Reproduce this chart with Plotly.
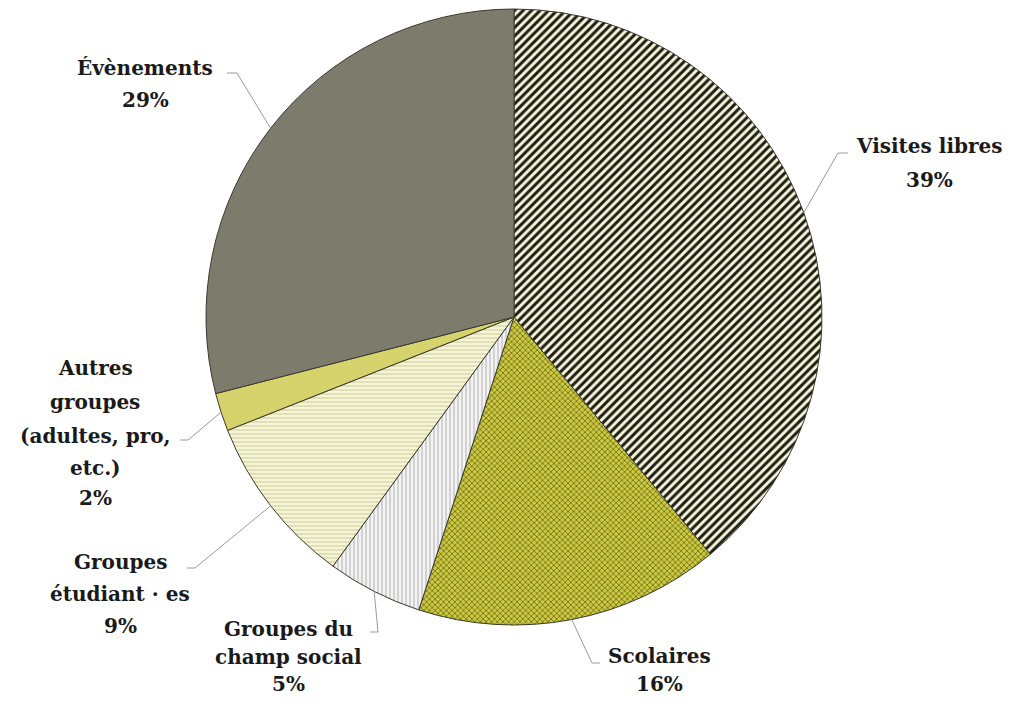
import math
import plotly.graph_objects as go

# ---- data ----
labels = ["Visites libres", "Scolaires", "Groupes du champ social",
          "Groupes étudiant·es", "Autres groupes (adultes, pro, etc.)", "Évènements"]
values = [39, 16, 5, 9, 2, 29]
label_lines = [
    ["Visites libres", "39%"],
    ["Scolaires", "16%"],
    ["Groupes du", "champ social", "5%"],
    ["Groupes", "étudiant · es", "9%"],
    ["Autres", "groupes", "(adultes, pro,", "etc.)", "2%"],
    ["Évènements", "29%"],
]

# ---- style ----
W, H = 1017, 706
OFF = 8  # default page body margin
FW, FH = W - 2 * OFF, H - 2 * OFF
CX, CY, R = 514, 317, 308
bg_colors = ["#f7f5de", "#cdca3e", "#f3f3f3", "#f6f5d8", "#d6d36c", "#7c7b6c"]
fg_colors = ["#1e1e14", "#4a4814", "#bdbdbd", "#d8d6a8", "#d6d36c", "#7c7b6c"]
shapes_pat = ["/", "x", "|", "-", "", ""]
pat_size = [6, 4, 4, 4, 8, 8]
pat_solid = [0.5, 0.28, 0.3, 0.35, 0.3, 0.3]

# label layout in reference pixels: text center x, line y's, elbow x, elbow y, end x
label_x = [929, 659, 288, 120, 95, 145]
label_ys = [
    [146, 180],
    [656, 684],
    [629, 657, 684],
    [562, 594, 626],
    [368, 402, 436, 468, 498],
    [68, 100],
]
elbows = [
    (838, 153, 848),
    (592, 663, 600),
    (378, 632, 370),
    (195, 568, 187),
    (188, 440, 180),
    (237, 73, 227),
]

def px(x):
    return (x - OFF) / FW

def py(y):
    return 1 - (y - OFF) / FH

fig = go.Figure(go.Pie(
    labels=labels,
    values=values,
    sort=False,
    direction="clockwise",
    rotation=0,
    textinfo="none",
    hoverinfo="label+percent",
    showlegend=False,
    marker=dict(
        colors=bg_colors,
        line=dict(color="#3a3a30", width=1),
        pattern=dict(shape=shapes_pat, fgcolor=fg_colors, bgcolor=bg_colors,
                     size=pat_size, solidity=pat_solid, fillmode="replace"),
    ),
    domain=dict(x=[px(CX - R), px(CX + R)], y=[py(CY + R), py(CY - R)]),
))

annotations = []
shapes = []
total = sum(values)
cum = 0
for i, v in enumerate(values):
    mid = (cum + v / 2) / total
    cum += v
    ang = 2 * math.pi * mid
    ax = CX + R * math.sin(ang)
    ay = CY - R * math.cos(ang)
    ex, ey, endx = elbows[i]
    shapes.append(dict(type="path", xref="paper", yref="paper",
                       path=f"M {px(ax)} {py(ay)} L {px(ex)} {py(ey)} L {px(endx)} {py(ey)}",
                       line=dict(color="#9a9a9a", width=1)))
    for line, ly in zip(label_lines[i], label_ys[i]):
        annotations.append(dict(
            x=px(label_x[i]), y=py(ly), xref="paper", yref="paper",
            text=f"<b>{line}</b>", showarrow=False, xanchor="center", yanchor="middle",
            font=dict(family="DejaVu Serif", size=20, color="#1a1a1a"),
        ))

fig.update_layout(
    width=FW, height=FH,
    margin=dict(l=0, r=0, t=0, b=0),
    paper_bgcolor="white", plot_bgcolor="white",
    annotations=annotations,
    shapes=shapes,
)

fig.write_html("out.html")
